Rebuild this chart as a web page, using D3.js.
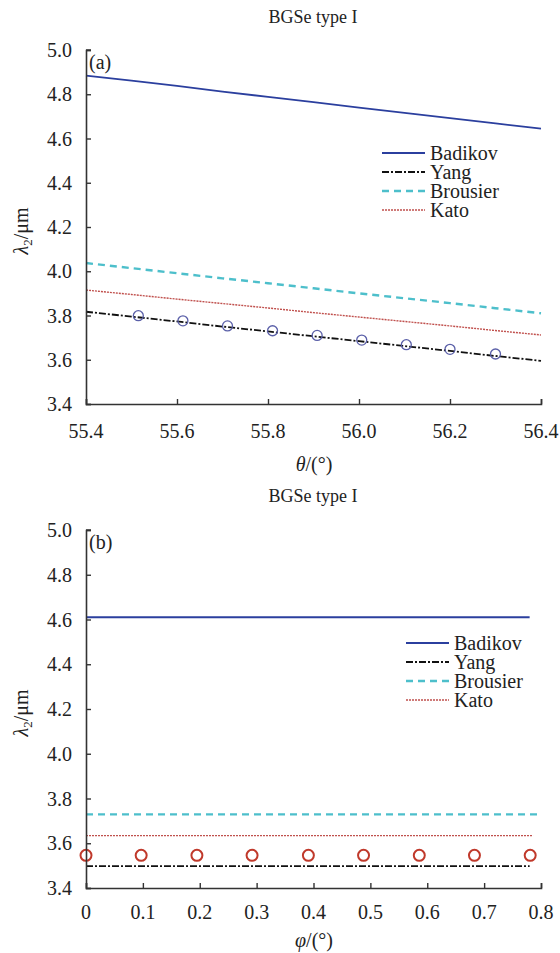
<!DOCTYPE html>
<html>
<head>
<meta charset="utf-8">
<script src="https://cdn.jsdelivr.net/npm/d3@7"></script>
<style>
  body { margin: 0; background: #fff; }
</style>
</head>
<body>
<script>
// panel (a): lambda2 vs theta
var thetaVals = [55.4, 55.5, 55.6, 55.7, 55.8, 55.9, 56.0, 56.1, 56.2, 56.3, 56.4];
var badikovA  = [4.884, 4.862, 4.838, 4.812, 4.788, 4.764, 4.740, 4.716, 4.692, 4.668, 4.645];
var yangA     = [3.817, 3.795, 3.773, 3.750, 3.728, 3.706, 3.684, 3.662, 3.640, 3.617, 3.595];
var brousierA = [4.037, 4.014, 3.991, 3.968, 3.946, 3.923, 3.900, 3.878, 3.856, 3.833, 3.810];
var katoA     = [3.915, 3.895, 3.874, 3.854, 3.834, 3.813, 3.793, 3.773, 3.753, 3.732, 3.712];
var expThetaA = [55.515, 55.613, 55.711, 55.81, 55.908, 56.006, 56.104, 56.2, 56.3];
var expLamA   = [3.799, 3.776, 3.753, 3.731, 3.710, 3.689, 3.668, 3.647, 3.626];
var thetaTicks = [55.4, 55.6, 55.8, 56.0, 56.2, 56.4];

// panel (b): lambda2 vs phi
var phiVals    = [0, 0.78];
var badikovB   = [4.61, 4.61];
var yangB      = [3.498, 3.498];
var brousierB  = [3.729, 3.729];
var katoB      = [3.634, 3.634];
var phiEnds    = {Badikov: 0.78, Yang: 0.78, Brousier: 0.795, Kato: 0.786};
var expPhiB    = [0, 0.097, 0.195, 0.292, 0.391, 0.488, 0.586, 0.683, 0.781];
var expLamB    = [3.546, 3.546, 3.546, 3.546, 3.546, 3.546, 3.546, 3.546, 3.546];
var phiTicks   = [0, 0.1, 0.2, 0.3, 0.4, 0.5, 0.6, 0.7, 0.8];

var lamTicks = [3.4, 3.6, 3.8, 4.0, 4.2, 4.4, 4.6, 4.8, 5.0];
var seriesNames = ["Badikov", "Yang", "Brousier", "Kato"];

var styles = {
  Badikov:  {color: "#2b3f9e", width: 1.8, dash: null},
  Yang:     {color: "#111111", width: 1.8, dash: "7,2,2,2"},
  Brousier: {color: "#4dbfcb", width: 2.4, dash: "7,5"},
  Kato:     {color: "#c0504d", width: 1.4, dash: "2,1"}
};

var FONT = "Times New Roman, Liberation Serif, DejaVu Serif, serif";

var svg = d3.select("body").append("svg")
  .attr("width", 560).attr("height", 953)
  .style("font-family", FONT);

function txt(g, x, y, size) {
  return g.append("text").attr("x", x).attr("y", y)
    .style("font-family", FONT).style("font-size", size + "px").attr("fill", "#222");
}

function drawPanel(opt) {
  var g = svg.append("g");
  var x = d3.scaleLinear().domain(opt.xDomain).range([86, 541]);
  var y = d3.scaleLinear().domain([3.4, 5.0]).range([opt.bottom, opt.top]);

  // title
  txt(g, 313, opt.titleY, 18).attr("text-anchor", "middle").text("BGSe type I");

  // series
  seriesNames.forEach(function (name) {
    var s = styles[name];
    var data = opt.xs.map(function (xv, i) { return [xv, opt.series[name][i]]; });
    if (opt.ends) data[data.length - 1][0] = opt.ends[name];
    g.append("path").datum(data)
      .attr("fill", "none")
      .attr("stroke", s.color)
      .attr("stroke-width", s.width)
      .attr("stroke-dasharray", s.dash)
      .attr("d", d3.line().x(function (d) { return x(d[0]); }).y(function (d) { return y(d[1]); }));
  });

  // experimental points
  g.selectAll(".pt").data(opt.expX).enter().append("circle")
    .attr("cx", function (d) { return x(d); })
    .attr("cy", function (d, i) { return y(opt.expY[i]); })
    .attr("r", opt.circleR)
    .attr("fill", "none")
    .attr("stroke", opt.circleColor)
    .attr("stroke-width", opt.circleW);

  // axes (ticks point inward)
  g.append("g").attr("transform", "translate(86,0)")
    .call(d3.axisRight(y).tickValues(lamTicks).tickSize(5).tickFormat(""));
  lamTicks.forEach(function (t) {
    txt(g, 72, y(t) + 7, 20).attr("text-anchor", "end").text(d3.format(".1f")(t));
  });

  g.append("g").attr("transform", "translate(0," + opt.bottom + ")")
    .call(d3.axisTop(x).tickValues(opt.xTicks).tickSize(5).tickFormat(""));
  opt.xTicks.forEach(function (t) {
    txt(g, x(t), opt.bottom + opt.tickDy, 20).attr("text-anchor", "middle").text(opt.fmt(t));
  });
  g.selectAll(".domain").attr("stroke", "#333").attr("stroke-width", 1.6);
  g.selectAll(".tick line").attr("stroke", "#333").attr("stroke-width", 1.4);
  // top bracket of y axis
  g.append("line").attr("x1", 86).attr("x2", 91)
    .attr("y1", y(5.0)).attr("y2", y(5.0)).attr("stroke", "#333").attr("stroke-width", 1.4);

  // panel label
  txt(g, 89, opt.top + 19, 20).text(opt.label);

  // axis titles
  var yl = g.append("text")
    .attr("transform", "translate(28," + ((opt.top + opt.bottom) / 2 + 4) + ") rotate(-90)")
    .attr("text-anchor", "middle").style("font-family", FONT).style("font-size", "20px").attr("fill", "#222");
  yl.append("tspan").style("font-style", "italic").text("λ");
  yl.append("tspan").attr("dy", 4).style("font-size", "13px").text("2");
  yl.append("tspan").attr("dy", -4).text("/μm");

  var xl = txt(g, 314, opt.xLabelY, 20).attr("text-anchor", "middle");
  xl.append("tspan").style("font-style", "italic").text(opt.xSym);
  xl.append("tspan").text("/(°)");

  // legend
  seriesNames.forEach(function (name, i) {
    var s = styles[name];
    var ly = opt.legY + i * 19;
    g.append("line").attr("x1", opt.legX).attr("x2", opt.legX + 43)
      .attr("y1", ly).attr("y2", ly)
      .attr("stroke", s.color).attr("stroke-width", s.width)
      .attr("stroke-dasharray", s.dash);
    txt(g, opt.legX + 48, ly + 7, 20).text(name);
  });
}

drawPanel({
  xDomain: [55.4, 56.4], top: 50, bottom: 404, titleY: 23,
  xs: thetaVals,
  series: {Badikov: badikovA, Yang: yangA, Brousier: brousierA, Kato: katoA},
  expX: expThetaA, expY: expLamA, circleR: 5, circleColor: "#5a5fa8", circleW: 1.3,
  xTicks: thetaTicks, fmt: d3.format(".1f"), tickDy: 34, xLabelY: 471,
  label: "(a)", xSym: "θ",
  legX: 382, legY: 153
});

drawPanel({
  xDomain: [0, 0.8], top: 530, bottom: 888, titleY: 502,
  xs: phiVals, ends: phiEnds,
  series: {Badikov: badikovB, Yang: yangB, Brousier: brousierB, Kato: katoB},
  expX: expPhiB, expY: expLamB, circleR: 5.5, circleColor: "#c0392b", circleW: 2,
  xTicks: phiTicks, fmt: function (t) { return t === 0 ? "0" : d3.format(".1f")(t); },
  tickDy: 31, xLabelY: 947,
  label: "(b)", xSym: "φ",
  legX: 406, legY: 643
});
</script>
</body>
</html>
